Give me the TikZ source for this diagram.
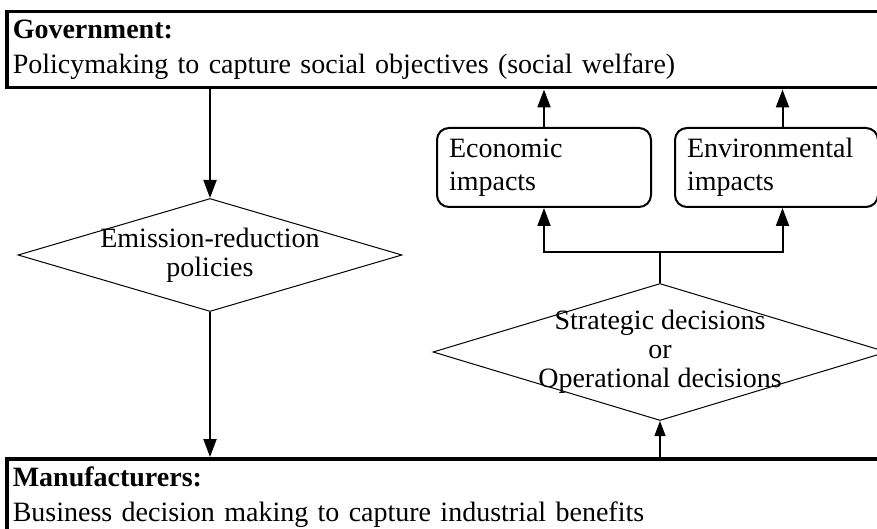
\documentclass[tikz,border=0pt]{standalone}
\usepackage{fontspec}
\setmainfont{Liberation Serif}
\usetikzlibrary{positioning,shapes.geometric,arrows.meta}

\begin{document}
\begin{tikzpicture}
   [x=1pt,y=-1pt,
    >={Triangle[length=18pt,width=13pt]},
    actor/.style={rectangle,draw,line width=3.5pt,anchor=north west,
      minimum width=880pt,minimum height=76pt,text width=868pt,
      inner xsep=6pt,inner ysep=4pt,align=left,
      font=\fontsize{28}{35}\selectfont},
    impact/.style={rectangle,draw,line width=2pt,rounded corners=12pt,
      minimum width=214pt,minimum height=79pt,text width=190pt,
      inner xsep=12pt,inner ysep=4pt,align=left,
      font=\fontsize{28}{33}\selectfont},
    decision/.style={diamond,draw,line width=1pt,inner sep=0pt},
    dtext/.style={align=center,inner sep=0pt,font=\fontsize{28}{29}\selectfont},
    flow/.style={->,line width=2pt},
    thinflow/.style={-{Triangle[length=15pt,width=11pt]},line width=1.2pt}]

\useasboundingbox (0,0) rectangle (877,529);

\node [actor] (gov) at (5,10) {\textbf{Government:}\\Policymaking to capture social objectives (social welfare)};
\node [actor] (manu) at (5,457) {\textbf{Manufacturers:}\\Business decision making to capture industrial benefits};

\node [decision,minimum width=384pt,minimum height=113pt] (pol) at (210,255) {};
\node [dtext] (poltext) at (pol) {Emission-reduction\\policies};
\node [decision,minimum width=454pt,minimum height=137pt] (dec) at (660,352) {};
\node [dtext] (dectext) at (dec) {Strategic decisions\\or\\Operational decisions};

\node [impact] (eco) at (544,167.5) {Economic\\impacts};
\node [impact,minimum width=203pt,text width=179pt,right=22pt of eco] (env) {Environmental\\impacts};
\coordinate [above=31pt of dec.north] (split);

\draw [flow] (pol.north |- gov.south) -- (pol.north);
\draw [flow] (pol.south) -- (pol.south |- manu.north);
\draw [thinflow] (dec.south |- manu.north) -- (dec.south);
\draw [line width=2pt] (dec.north) -- (split);
\draw [flow] (split) -| (eco.south);
\draw [flow] (split) -| ([xshift=6pt]env.south);
\draw [flow] (eco.north) -- (eco.north |- gov.south);
\draw [flow] ([xshift=6pt]env.north) -- ([xshift=6pt]env.north |- gov.south);
\end{tikzpicture}
\end{document}
